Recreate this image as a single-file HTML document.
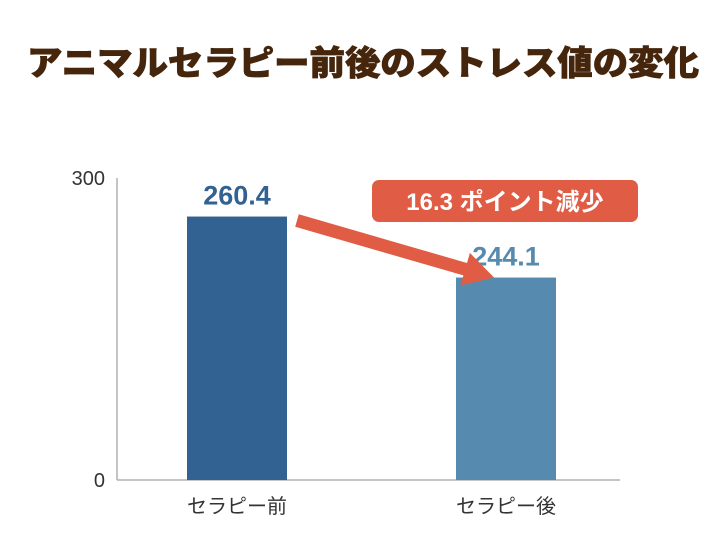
<!DOCTYPE html>
<html><head><meta charset="utf-8"><style>
body{margin:0;background:#fff;}
svg{display:block;font-family:"Liberation Sans","Noto Sans CJK JP",sans-serif;}
</style></head><body>
<svg id="chart" width="726" height="545" viewBox="0 0 726 545">
<text x="363" y="75" text-anchor="middle" font-size="34" font-weight="900" fill="#45260c" stroke="#45260c" stroke-width="0.8" font-family="'Noto Sans CJK JP',sans-serif" textLength="672" lengthAdjust="spacingAndGlyphs">アニマルセラピー前後のストレス値の変化</text>
<g id="plot"></g>
</svg>
<script>
const categories = ["セラピー前", "セラピー後"];
const values = [260.4, 244.1];
const tickLabels = ["0", "300"];
const changeLabel = "16.3 ポイント減少";
const colors = ["#316291", "#568aae"];
const NS = "http://www.w3.org/2000/svg";
const plotG = document.getElementById("plot");
const baseY = 480, plotTop = 178, axisX = 117;
const dMin = 190, dMax = 270.7;
function yScale(v){ return baseY - (v - dMin) / (dMax - dMin) * (baseY - plotTop); }
function xc(i){ return 237 + i * 269; }
function mk(tag, attrs){ const e = document.createElementNS(NS, tag); for (const k in attrs) e.setAttribute(k, attrs[k]); plotG.appendChild(e); return e; }
let el;
el = mk("line", {x1: axisX, y1: plotTop, x2: axisX, y2: baseY, stroke: "#b0b0b0", "stroke-width": 1.5});


el = mk("line", {x1: axisX, y1: baseY, x2: 620, y2: baseY, stroke: "#b0b0b0", "stroke-width": 1.5});


tickLabels.forEach((t, i) => {
  const ty = i === 0 ? baseY : plotTop;
  const tx = mk("text", {x: 105, y: ty + 7, "text-anchor": "end", "font-size": 20, fill: "#333"});
  tx.textContent = t;
  
  
});
values.forEach((v, i) => {
  const r = mk("rect", {x: xc(i) - 50, y: yScale(v), width: 100, height: baseY - yScale(v), fill: colors[i]});
  
  
  const vl = mk("text", {x: xc(i), y: yScale(v) - 12, "text-anchor": "middle", "font-size": 27, "font-weight": "bold", fill: colors[i]});
  vl.textContent = v.toFixed(1);
  
  
  const cl = mk("text", {x: xc(i), y: 513, "text-anchor": "middle", "font-size": 20, fill: "#333"});
  cl.textContent = categories[i];
  
  
});
const x1 = xc(0) + 60, y1 = yScale(values[0]) + 4, x2 = xc(1) - 12, y2 = yScale(values[1]);
const ang = Math.atan2(y2 - y1, x2 - x1), L = Math.hypot(x2 - x1, y2 - y1);
const hw = 6.5, hl = 30, hh = 17;
const pts = [[0,-hw],[L-hl,-hw],[L-hl,-hh],[L,0],[L-hl,hh],[L-hl,hw],[0,hw]].map(([a,b]) =>
  [x1 + a*Math.cos(ang) - b*Math.sin(ang), y1 + a*Math.sin(ang) + b*Math.cos(ang)].map(n => n.toFixed(1)).join(",")).join(" ");
el = mk("polygon", {points: pts, fill: "#e05c45"});


el = mk("rect", {x: 372, y: 180, width: 266, height: 42, rx: 7, fill: "#e05c45"});


el = mk("text", {x: 505, y: 210, "text-anchor": "middle", "font-size": 24, "font-weight": "bold", fill: "#fff"});
el.textContent = changeLabel;


</script>
</body></html>
